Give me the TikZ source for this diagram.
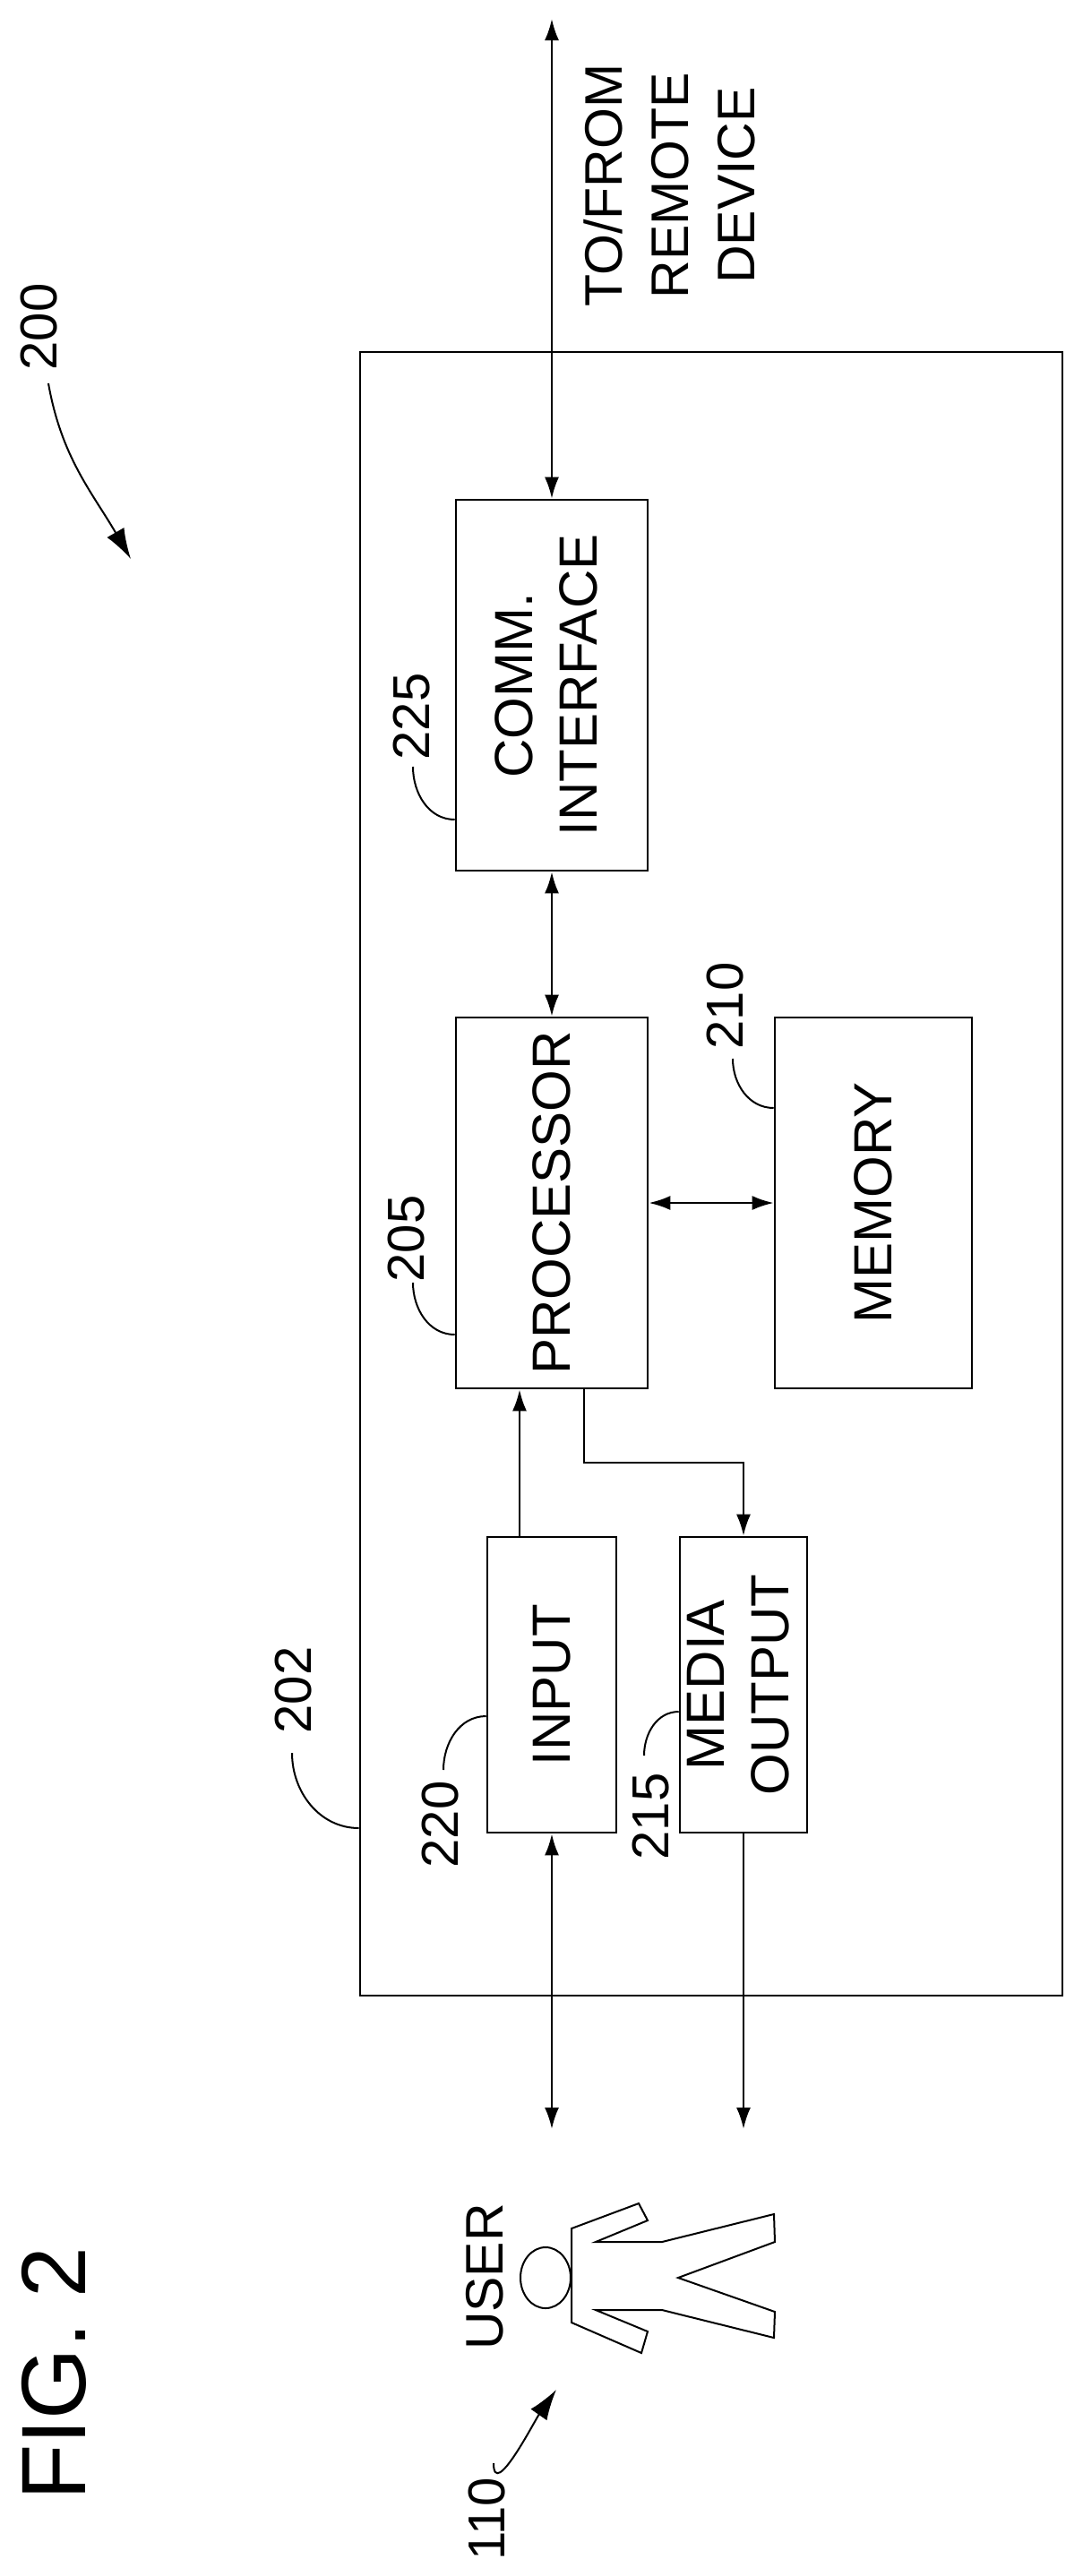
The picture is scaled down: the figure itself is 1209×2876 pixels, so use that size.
\documentclass[tikz,border=0pt]{standalone}
\usepackage{fontspec}
\setmainfont{Liberation Sans}
\usetikzlibrary{arrows.meta,shapes.geometric}
\begin{document}
\begin{tikzpicture}[x=1pt,y=-1pt,
  ln/.style={line width=2.6pt},
  arr/.style={ln,-{Latex[length=24pt,width=16pt]}},
  darr/.style={ln,{Latex[length=24pt,width=16pt]}-{Latex[length=24pt,width=16pt]}},
  blk/.style={draw,ln,rectangle,inner sep=0pt},
  txt/.style={font=\fontsize{60}{72}\selectfont,inner sep=0pt},
  num/.style={font=\fontsize{58}{66}\selectfont,inner sep=0pt,rotate=90},
  lead/.style={line width=2pt}]
\useasboundingbox (0,0) rectangle (1209,2876);
\fill[white] (0,0) rectangle (1209,2876);
% outer box
\node[blk,minimum width=784pt,minimum height=1835pt] (outer) at (794,1310.5) {};
% blocks
\node[blk,minimum width=214pt,minimum height=414pt] (comm) at (616,765) {};
\node[txt] (commt) at (comm.center) {\rotatebox{90}{\begin{tabular}{@{}c@{}}COMM.\\INTERFACE\end{tabular}}};
\node[blk,minimum width=214pt,minimum height=414pt] (proc) at (616,1343) {};
\node[txt] (proct) at (proc.center) {\rotatebox{90}{PROCESSOR}};
\node[blk,minimum width=220pt,minimum height=414pt] (mem) at (975,1343) {};
\node[txt] (memt) at (mem.center) {\rotatebox{90}{MEMORY}};
\node[blk,minimum width=144pt,minimum height=330pt] (inp) at (616,1881) {};
\node[txt] (inpt) at (inp.center) {\rotatebox{90}{INPUT}};
\node[blk,minimum width=142pt,minimum height=330pt] (med) at (830,1881) {};
\node[txt] (medt) at (med.center) {\rotatebox{90}{\begin{tabular}{@{}c@{}}MEDIA\\OUTPUT\end{tabular}}};
% coordinates
\coordinate (top) at (616,21);
\coordinate (inb) at (616,2377);
\coordinate (medb) at (830,2377);
\coordinate (bend1) at (652,1633);
\coordinate (bend2) at (830,1633);
% connectors
\draw[darr] (top) -- (comm.north);
\draw[darr] (comm.south) -- (proc.north);
\draw[darr] (proc.east) -- (mem.west);
\draw[arr] (inp.north -| 580,0) -- (proc.south -| 580,0);
\draw[arr] (proc.south -| bend1) -- (bend1) -- (bend2) -- (med.north);
\draw[darr] (inb) -- (inp.south);
\draw[arr] (med.south) -- (medb);
% remote label
\node[txt,font=\fontsize{59}{74}\selectfont] (remote) at (754,207) {\rotatebox{90}{\begin{tabular}{@{}c@{}}TO/FROM\\REMOTE\\DEVICE\end{tabular}}};
% reference numerals
\node[num] (n200) at (44,365) {200};
\node[num] (n225) at (460,800) {225};
\node[num] (n205) at (454,1383) {205};
\node[num] (n210) at (810,1123) {210};
\node[num] (n220) at (492,2037) {220};
\node[num] (n215) at (727,2028) {215};
\node[num] (n202) at (328,1887) {202};
\node[num] (n110) at (544,2812) {110};
\coordinate (l225) at (461,856);
\coordinate (l205) at (461,1432);
\coordinate (l210) at (818,1182);
\coordinate (l220) at (495,1976);
\coordinate (l215) at (719,1960);
\coordinate (l202) at (326,1957);
\draw[lead] (l225) to[out=-90,in=180] (comm.west |- 0,915);
\draw[lead] (l205) to[out=-90,in=180] (proc.west |- 0,1490);
\draw[lead] (l210) to[out=-90,in=180] (mem.west |- 0,1237);
\draw[lead] (l220) to[out=90,in=180] (inp.west |- 0,1916);
\draw[lead] (l215) to[out=90,in=180] (med.west |- 0,1911);
\draw[lead] (l202) to[out=-90,in=180] (outer.west |- 0,2041);
\coordinate (a200s) at (54,428);
\coordinate (a200e) at (146,624);
\draw[line width=2pt,-{Latex[length=34pt,width=22pt]}] (a200s) to[out=-80,in=120] (a200e);
\coordinate (a110s) at (551,2750);
\coordinate (a110e) at (621,2668);
\draw[line width=2pt,-{Latex[length=34pt,width=22pt]}] (a110s) to[out=-90,in=235] (a110e);
% user
\node[txt,font=\fontsize{59}{66}\selectfont] (usert) at (541,2542) {\rotatebox{90}{USER}};
\node[draw,line width=2pt,ellipse,minimum width=56pt,minimum height=68pt,inner sep=0pt] (head) at (609,2543) {};
\draw[line width=2pt] (638,2488) -- (713,2460) -- (723,2479) -- (665,2503) -- (739,2503) -- (864,2472) -- (865,2503) -- (757,2543) -- (865,2581) -- (864,2610) -- (739,2579) -- (665,2579) -- (723,2603) -- (716,2627) -- (638,2593) -- cycle;
% figure label
\node[num,font=\fontsize{102}{110}\selectfont] (fig) at (60,2650) {FIG. 2};
\end{tikzpicture}
\end{document}
